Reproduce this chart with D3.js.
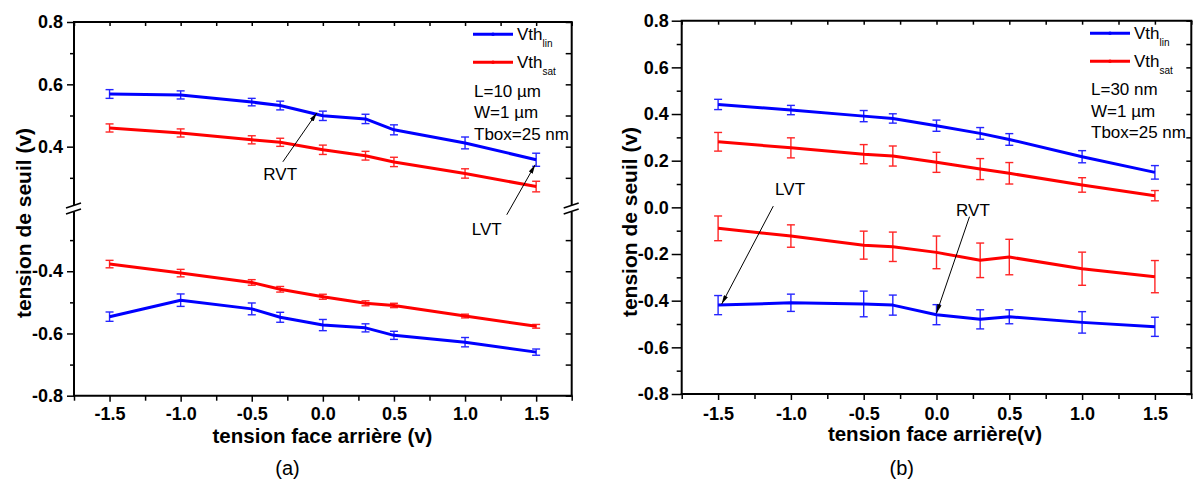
<!DOCTYPE html>
<html>
<head>
<meta charset="utf-8">
<script src="https://cdn.jsdelivr.net/npm/d3@7"></script>
<style>
  html, body { margin: 0; padding: 0; background: #ffffff; }
  svg { display: block; }
  text { font-family: "Liberation Sans", Arial, sans-serif; }
</style>
</head>
<body>
<script>
// ---------------- DATA ----------------
const xValues = [-1.5, -1.0, -0.5, -0.3, 0.0, 0.3, 0.5, 1.0, 1.5];
const xMajorTicks = [-1.5, -1.0, -0.5, 0.0, 0.5, 1.0, 1.5];
const xMinorTicks = [-1.75, -1.25, -0.75, -0.25, 0.25, 0.75, 1.25, 1.75];

// panel (a)  L=10 µm
const aLinHigh    = [0.569, 0.566, 0.543, 0.532, 0.499, 0.489, 0.454, 0.412, 0.358];
const aLinHighErr = [0.014, 0.013, 0.012, 0.014, 0.015, 0.015, 0.016, 0.019, 0.021];
const aSatHigh    = [0.460, 0.444, 0.422, 0.414, 0.390, 0.371, 0.351, 0.314, 0.272];
const aSatHighErr = [0.013, 0.013, 0.013, 0.013, 0.015, 0.014, 0.015, 0.015, 0.017];
const aSatLow     = [-0.377, -0.406, -0.436, -0.458, -0.482, -0.503, -0.510, -0.544, -0.577];
const aSatLowErr  = [0.012, 0.012, 0.009, 0.009, 0.008, 0.008, 0.007, 0.006, 0.006];
const aLinLow     = [-0.546, -0.493, -0.521, -0.548, -0.573, -0.582, -0.606, -0.628, -0.660];
const aLinLowErr  = [0.015, 0.020, 0.019, 0.016, 0.018, 0.013, 0.013, 0.015, 0.010];
const aYMajorTicks = [0.8, 0.6, 0.4, -0.4, -0.6, -0.8];
const aYMinorTicks = [0.7, 0.5, 0.3, -0.3, -0.5, -0.7];
const aInfo = ["L=10 µm", "W=1 µm", "Tbox=25 nm"];

// panel (b)  L=30 nm
const bLinHigh    = [0.441, 0.417, 0.391, 0.381, 0.350, 0.317, 0.291, 0.217, 0.150];
const bLinHighErr = [0.022, 0.020, 0.024, 0.020, 0.024, 0.025, 0.025, 0.026, 0.029];
const bSatHigh    = [0.281, 0.255, 0.228, 0.220, 0.193, 0.164, 0.146, 0.096, 0.050];
const bSatHighErr = [0.040, 0.043, 0.041, 0.043, 0.043, 0.045, 0.046, 0.031, 0.022];
const bSatLow     = [-0.090, -0.123, -0.162, -0.169, -0.193, -0.227, -0.213, -0.263, -0.297];
const bSatLowErr  = [0.053, 0.048, 0.060, 0.063, 0.070, 0.074, 0.076, 0.071, 0.069];
const bLinLow     = [-0.419, -0.409, -0.414, -0.419, -0.460, -0.480, -0.469, -0.493, -0.512];
const bLinLowErr  = [0.041, 0.037, 0.055, 0.043, 0.043, 0.041, 0.030, 0.046, 0.041];
const bYMajorTicks = [0.8, 0.6, 0.4, 0.2, 0.0, -0.2, -0.4, -0.6, -0.8];
const bYMinorTicks = [0.7, 0.5, 0.3, 0.1, -0.1, -0.3, -0.5, -0.7];
const bInfo = ["L=30 nm", "W=1 µm", "Tbox=25 nm"];

const legendNames = [["Vth", "lin"], ["Vth", "sat"]];
const BLUE = "#0000ff", RED = "#ff0000";

// ---------------- SVG ----------------
const W = 1196, H = 487;
const svg = d3.select("body").append("svg").attr("width", W).attr("height", H);
svg.append("rect").attr("width", W).attr("height", H).attr("fill", "#fff");

const defs = svg.append("defs");
defs.append("marker").attr("id", "arrow")
  .attr("viewBox", "0 0 10 5").attr("refX", 10).attr("refY", 2.5)
  .attr("markerWidth", 9).attr("markerHeight", 4.5)
  .attr("markerUnits", "userSpaceOnUse").attr("orient", "auto")
  .append("path").attr("d", "M0,0 L10,2.5 L0,5 Z").attr("fill", "#000");

const fmt = d => d.toFixed(1);

function drawPanel(cfg) {
  const g = svg.append("g");
  const x = d3.scaleLinear().domain([-1.75, 1.75]).range([cfg.left, cfg.right]);
  const y = cfg.y;

  // series
  const line = d3.line().x(d => x(d.x)).y(d => y(d.v));
  cfg.series.forEach(s => {
    const pts = xValues.map((xv, i) => ({ x: xv, v: s.vals[i], e: s.errs[i] }));
    const eb = g.append("g").attr("stroke", s.color).attr("stroke-width", 1.4).attr("opacity", 0.85);
    eb.selectAll("line.v").data(pts).enter().append("line")
      .attr("x1", d => x(d.x)).attr("x2", d => x(d.x))
      .attr("y1", d => y(d.v - d.e)).attr("y2", d => y(d.v + d.e));
    eb.selectAll("line.t").data(pts).enter().append("line")
      .attr("x1", d => x(d.x) - 4).attr("x2", d => x(d.x) + 4)
      .attr("y1", d => y(d.v + d.e)).attr("y2", d => y(d.v + d.e));
    eb.selectAll("line.b").data(pts).enter().append("line")
      .attr("x1", d => x(d.x) - 4).attr("x2", d => x(d.x) + 4)
      .attr("y1", d => y(d.v - d.e)).attr("y2", d => y(d.v - d.e));
    g.append("path").datum(pts).attr("d", line)
      .attr("fill", "none").attr("stroke", s.color).attr("stroke-width", 3)
      .attr("stroke-linejoin", "round");
  });

  const yTop = y.range()[y.range().length - 1], yBot = y.range()[0];
  const styleAxis = (sel, size) => {
    sel.select(".domain").remove();
    sel.selectAll(".tick line").attr("stroke", "#000").attr("stroke-width", 1.5);
    sel.selectAll(".tick text").attr("fill", "#000")
      .style("font-family", "'Liberation Sans', Arial, sans-serif")
      .style("font-weight", "bold").style("font-size", size + "px");
  };

  // bottom
  g.append("g").attr("transform", `translate(0,${yBot})`)
    .call(d3.axisBottom(x).tickValues(xMajorTicks).tickSize(6).tickPadding(cfg.xPad).tickFormat(fmt))
    .call(s => styleAxis(s, 18));
  g.append("g").attr("transform", `translate(0,${yBot})`)
    .call(d3.axisBottom(x).tickValues(xMinorTicks).tickSize(5).tickFormat(""))
    .call(s => styleAxis(s, 18));
  // top (inward)
  g.append("g").attr("transform", `translate(0,${yTop})`)
    .call(d3.axisTop(x).tickValues(xMajorTicks.concat(xMinorTicks)).tickSize(-4).tickFormat(""))
    .call(s => styleAxis(s, 18));
  // left
  g.append("g").attr("transform", `translate(${cfg.left},0)`)
    .call(d3.axisLeft(y).tickValues(cfg.yMajor).tickSize(cfg.majorLen).tickPadding(cfg.yPad).tickFormat(fmt))
    .call(s => styleAxis(s, 18));
  g.append("g").attr("transform", `translate(${cfg.left},0)`)
    .call(d3.axisLeft(y).tickValues(cfg.yMinor).tickSize(cfg.minorLen).tickFormat(""))
    .call(s => styleAxis(s, 18));
  // right (inward)
  g.append("g").attr("transform", `translate(${cfg.right},0)`)
    .call(d3.axisRight(y).tickValues(cfg.yMajor.concat(cfg.yMinor)).tickSize(-cfg.rightLen).tickFormat(""))
    .call(s => styleAxis(s, 18));

  // frame
  const fr = g.append("g").attr("stroke", "#000").attr("stroke-width", 2).attr("fill", "none");
  fr.append("line").attr("x1", cfg.left - 1).attr("x2", cfg.right + 1).attr("y1", yTop).attr("y2", yTop);
  fr.append("line").attr("x1", cfg.left - 1).attr("x2", cfg.right + 1).attr("y1", yBot).attr("y2", yBot);
  if (cfg.breakAt !== undefined) {
    const yb = y(cfg.breakAt);
    [cfg.left, cfg.right].forEach(ax => {
      fr.append("line").attr("x1", ax).attr("x2", ax).attr("y1", yTop).attr("y2", yb - 4);
      fr.append("line").attr("x1", ax).attr("x2", ax).attr("y1", yb + 3).attr("y2", yBot);
      fr.append("line").attr("stroke-width", 1.6)
        .attr("x1", ax - 8).attr("y1", yb - 1).attr("x2", ax + 7).attr("y2", yb - 6);
      fr.append("line").attr("stroke-width", 1.6)
        .attr("x1", ax - 8).attr("y1", yb + 5).attr("x2", ax + 7).attr("y2", yb);
    });
  } else {
    [cfg.left, cfg.right].forEach(ax => {
      fr.append("line").attr("x1", ax).attr("x2", ax).attr("y1", yTop).attr("y2", yBot);
    });
  }

  // axis titles
  g.append("text").attr("x", cfg.xTitleX).attr("y", cfg.xTitleY)
    .attr("text-anchor", "middle").style("font-weight", "bold").style("font-size", "20.5px")
    .text(cfg.xTitle);
  g.append("text").attr("transform", `translate(${cfg.yTitleX},${cfg.yTitleY}) rotate(-90)`)
    .attr("text-anchor", "middle").style("font-weight", "bold").style("font-size", "21px")
    .text("tension de seuil (v)");

  // legend
  const colors = [BLUE, RED];
  legendNames.forEach((nm, i) => {
    const ly = cfg.legY + i * 28;
    g.append("line").attr("x1", cfg.legX).attr("x2", cfg.legX + 40).attr("y1", ly).attr("y2", ly)
      .attr("stroke", colors[i]).attr("stroke-width", 3);
    g.append("circle").attr("cx", cfg.legX + 20).attr("cy", ly).attr("r", 1.8).attr("fill", colors[i]);
    const t = g.append("text").attr("x", cfg.legX + 44).attr("y", ly + 6).style("font-size", "17px");
    t.append("tspan").text(nm[0]);
    t.append("tspan").attr("dy", 6.5).style("font-size", "10px").text(nm[1]);
  });
  cfg.info.forEach((s, i) => {
    g.append("text").attr("x", cfg.legX + 1).attr("y", cfg.infoY + i * 21.7)
      .style("font-size", "17px").text(s);
  });

  // annotations
  cfg.notes.forEach(n => {
    const px = x(n.x), py = y(n.v);
    g.append("line")
      .attr("x1", px + n.start[0]).attr("y1", py + n.start[1])
      .attr("x2", px + n.tip[0]).attr("y2", py + n.tip[1])
      .attr("stroke", "#000").attr("stroke-width", 1)
      .attr("marker-end", "url(#arrow)");
    g.append("text").attr("x", px + n.text[0]).attr("y", py + n.text[1])
      .style("font-size", "17px").text(n.label);
  });

  // panel label
  g.append("text").attr("x", cfg.panelX).attr("y", 475).attr("text-anchor", "middle")
    .style("font-size", "20px").text(cfg.panel);
}

// panel (a): broken axis (gap from -0.2 to 0.2)
drawPanel({
  left: 74, right: 571.7,
  y: d3.scaleLinear().domain([-0.8, -0.2, 0.2, 0.8]).range([395.7, 209, 209, 22]),
  breakAt: 0.2,
  yMajor: aYMajorTicks, yMinor: aYMinorTicks,
  majorLen: 7, minorLen: 4, rightLen: 6, yPad: 4, xPad: 6,
  series: [
    { vals: aLinHigh, errs: aLinHighErr, color: BLUE },
    { vals: aSatHigh, errs: aSatHighErr, color: RED },
    { vals: aSatLow, errs: aSatLowErr, color: RED },
    { vals: aLinLow, errs: aLinLowErr, color: BLUE }
  ],
  xTitle: "tension face arrière (v)", xTitleX: 322.5, xTitleY: 443,
  yTitleX: 31, yTitleY: 223,
  legX: 473, legY: 34.3, infoY: 96.7, info: aInfo,
  notes: [
    { label: "RVT", x: 0.0, v: aLinHigh[4], tip: [-6, -3], start: [-40, 46], text: [-59.5, 64] },
    { label: "LVT", x: 1.5, v: aLinHigh[8], tip: [-1, 5], start: [-29.4, 55], text: [-64.4, 75] }
  ],
  panel: "(a)", panelX: 287.5
});

// panel (b)
drawPanel({
  left: 681.7, right: 1191.3,
  y: d3.scaleLinear().domain([-0.8, 0.8]).range([394, 20.7]),
  yMajor: bYMajorTicks, yMinor: bYMinorTicks,
  majorLen: 10, minorLen: 5, rightLen: 5, yPad: 3, xPad: 7,
  series: [
    { vals: bLinHigh, errs: bLinHighErr, color: BLUE },
    { vals: bSatHigh, errs: bSatHighErr, color: RED },
    { vals: bSatLow, errs: bSatLowErr, color: RED },
    { vals: bLinLow, errs: bLinLowErr, color: BLUE }
  ],
  xTitle: "tension face arrière(v)", xTitleX: 935, xTitleY: 441,
  yTitleX: 636.5, yTitleY: 222,
  legX: 1090, legY: 33.3, infoY: 95, info: bInfo,
  notes: [
    { label: "LVT", x: -1.5, v: bLinLow[0], tip: [3.6, -1], start: [55.2, -99], text: [57, -110] },
    { label: "RVT", x: 0.0, v: bLinLow[4], tip: [0, -1.4], start: [33, -98], text: [19.6, -98.7] }
  ],
  panel: "(b)", panelX: 901.7
});
</script>
</body>
</html>
